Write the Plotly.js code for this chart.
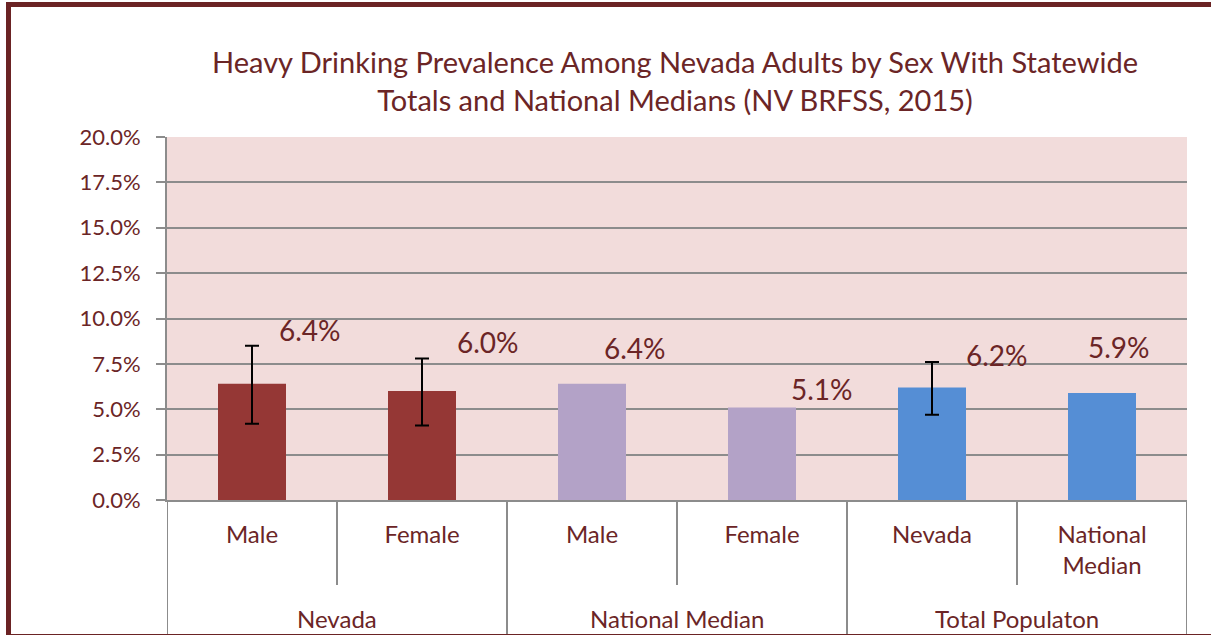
<!DOCTYPE html>
<html>
<head>
<meta charset="utf-8">
<script src="https://cdn.plot.ly/plotly-3.0.1.min.js"></script>
<style>
  html, body { margin: 0; padding: 0; background: #ffffff; overflow: hidden; }
  #chart { width: 1211px; height: 635px; position: absolute; left: 0; top: 0; }
  #frame { position: absolute; left: 6px; top: 2px; width: 1400px; height: 627px;
           border: 5px solid #6b2324; pointer-events: none; }
</style>
</head>
<body>
<div id="chart"></div>
<div id="frame"></div>
<script>
// ---- data ----
const groups = ["Nevada", "Nevada", "National Median", "National Median", "Total Populaton", "Total Populaton"];
const categories = ["Male", "Female", "Male", "Female", "Nevada", "National<br>Median"];
const values = [6.4, 6.0, 6.4, 5.1, 6.2, 5.9];
const ciLow = [4.2, 4.1, null, null, 4.7, null];
const ciHigh = [8.5, 7.8, null, null, 7.6, null];
const yTicks = [0, 2.5, 5, 7.5, 10, 12.5, 15, 17.5, 20];
const titleText = "Heavy Drinking Prevalence Among Nevada Adults by Sex With Statewide<br>Totals and National Medians (NV BRFSS, 2015)";

// ---- styling ----
const barColors = ["#953735", "#953735", "#b3a2c7", "#b3a2c7", "#558ed5", "#558ed5"];
const textColor = "#6b2526";
const lineColor = "#8c8c8c";
const fontFamily = "Lato, 'Open Sans', sans-serif";
// pixel offsets of each value label from its bar top (x right, y up)
const labelShift = [[58, 54], [66, 49], [43, 36], [60, 18], [65, 32], [17, 46]];

const idx = categories.map((_, i) => i);
const errPlus = values.map((v, i) => ciHigh[i] == null ? NaN : +(ciHigh[i] - v).toFixed(2));
const errMinus = values.map((v, i) => ciLow[i] == null ? NaN : +(v - ciLow[i]).toFixed(2));

const trace = {
  type: "bar",
  x: idx,
  y: values,
  width: 0.4,
  marker: { color: barColors },
  error_y: {
    type: "data", symmetric: false,
    array: errPlus, arrayminus: errMinus,
    color: "#000000", thickness: 2, width: 7
  },
  hoverinfo: "none"
};

// plot area geometry (for the category-divider lines below the axis)
const M = { l: 167, r: 24, t: 137, b: 135 };
const plotH = 635 - M.t - M.b;
const shortY = -85 / plotH;   // inner boundary lines end 85px below the axis
const longY = -140 / plotH;   // group boundary lines run to the bottom edge

const shapes = [];
for (let i = 0; i <= categories.length; i++) {
  const full = (i === 0 || i === categories.length || groups[i] !== groups[i - 1]);
  shapes.push({
    type: "line", xref: "x", yref: "paper",
    x0: i - 0.5, x1: i - 0.5, y0: 0, y1: full ? longY : shortY,
    line: { color: lineColor, width: 2 }
  });
}

const annotations = values.map((v, i) => ({
  xref: "x", yref: "y", x: i, y: v,
  text: v.toFixed(1) + "%",
  showarrow: false,
  xanchor: "center", yanchor: "middle",
  xshift: labelShift[i][0], yshift: labelShift[i][1],
  font: { family: fontFamily, size: 28, color: textColor }
}));

// group labels centred under their categories
const groupNames = [...new Set(groups)];
groupNames.forEach(g => {
  const members = idx.filter(i => groups[i] === g);
  const center = members.reduce((a, b) => a + b, 0) / members.length;
  annotations.push({
    xref: "x", yref: "paper", x: center, y: -118 / plotH,
    text: g, showarrow: false, xanchor: "center", yanchor: "middle",
    font: { family: fontFamily, size: 24, color: textColor }
  });
});

const layout = {
  width: 1211, height: 635,
  margin: { l: M.l, r: M.r, t: M.t, b: M.b, pad: 0 },
  paper_bgcolor: "#ffffff",
  plot_bgcolor: "#f2dcdb",
  showlegend: false,
  title: {
    text: titleText,
    x: 675 / 1211, xref: "container", xanchor: "center",
    y: 1 - 73 / 635, yref: "container", yanchor: "middle",
    font: { family: fontFamily, size: 29, color: textColor }
  },
  font: { family: fontFamily, color: textColor },
  xaxis: {
    range: [-0.5, categories.length - 0.5],
    tickvals: idx, ticktext: categories,
    showline: true, linecolor: lineColor, linewidth: 2,
    ticks: "", showgrid: false, zeroline: false,
    tickfont: { family: fontFamily, size: 24, color: textColor },
    ticklabelstandoff: 12
  },
  yaxis: {
    range: [0, 20],
    tickvals: yTicks,
    ticktext: yTicks.map(t => t.toFixed(1) + "%"),
    showgrid: true, gridcolor: lineColor, gridwidth: 2,
    showline: true, linecolor: lineColor, linewidth: 2,
    ticks: "outside", ticklen: 9, tickcolor: lineColor, tickwidth: 2,
    zeroline: false,
    tickfont: { family: fontFamily, size: 22, color: textColor },
    ticklabelstandoff: 11
  },
  shapes: shapes,
  annotations: annotations
};

Plotly.newPlot("chart", [trace], layout, { displayModeBar: false, staticPlot: true });
</script>
</body>
</html>
